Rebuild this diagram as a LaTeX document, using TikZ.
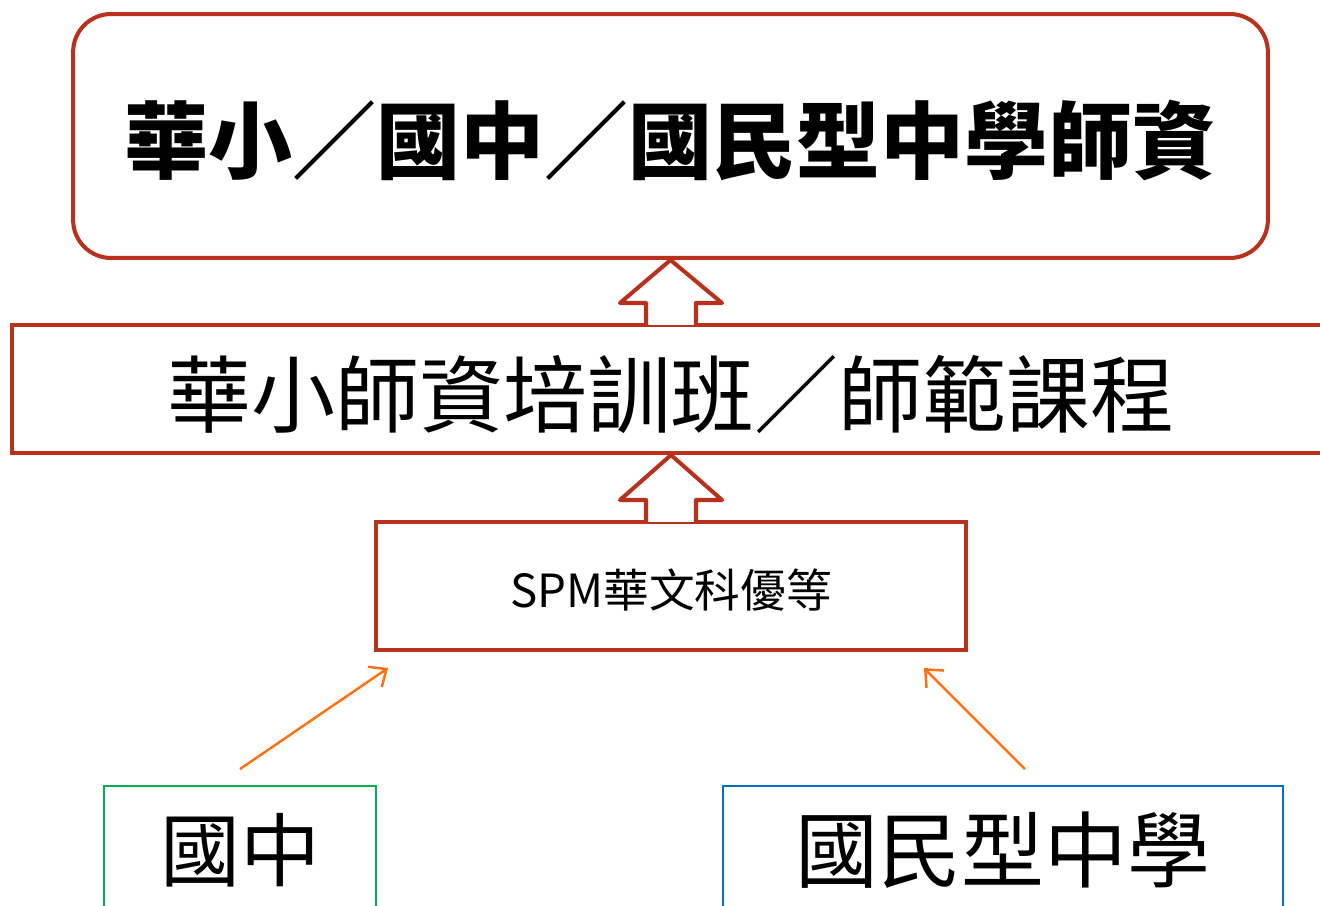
\documentclass[tikz,border=0pt]{standalone}
\usepackage{fontspec}
\setmainfont{Noto Sans CJK TC}
\usepackage{tikz}
\usetikzlibrary{arrows.meta,calc,positioning}
\definecolor{boxred}{HTML}{B8311D}
\definecolor{feedorange}{HTML}{FF7010}
\definecolor{boxgreen}{HTML}{00B050}
\definecolor{boxblue}{HTML}{0070C0}

\begin{document}
\begin{tikzpicture}[x=0.02cm, y=-0.02cm,
    redbox/.style={draw=boxred, line width=2.3pt, inner sep=0pt, text depth=0pt},
    lowbox/.style={line width=1.1pt, inner sep=0pt, text depth=0pt, minimum height=2.8cm},
    feed/.style={draw=feedorange, line width=1.4pt, -{Straight Barb[length=8pt,width=14pt]}}]
            % page
            \useasboundingbox (0,0) rectangle (1320,906);
            \clip (0,0) rectangle (1320,906);

            % boxes
            \node[redbox, rounded corners=0.76cm, minimum width=23.9cm, minimum height=4.88cm, text height=42pt,
                  font=\fontsize{47.8}{50}\selectfont\bfseries] (top) at (670.5,136) {華小／國中／國民型中學師資};
            \node[redbox, minimum width=26.36cm, minimum height=2.56cm, text height=43.1pt,
                  font=\fontsize{47.8}{50}\selectfont] (mid) at (671,389) {華小師資培訓班／師範課程};
            \node[redbox, minimum width=11.8cm, minimum height=2.56cm, text height=24.3pt,
                  font=\fontsize{26}{28}\selectfont] (spm) at (671,586) {SPM華文科優等};
            \node[lowbox, draw=boxgreen, minimum width=5.44cm, text height=27.8pt,
                  font=\fontsize{45.5}{48}\selectfont] (gz) at (240,856) {國中};
            \node[lowbox, draw=boxblue, minimum width=11.2cm, text height=29pt,
                  font=\fontsize{47.2}{50}\selectfont] (mz) at (1003,856) {國民型中學};

            % hollow arrows
            \foreach \a/\b in {top/mid, mid/spm}
                \draw[boxred, line width=2.3pt, fill=white, line join=round]
                    ($(\b.north)+(-25,2)$) -- ++(0,-22) -- ++(-26,0) -- (\a.south)
                    -- ($(\b.north)+(51,-20)$) -- ++(-26,0) -- ++(0,22);

            % orange arrows
            \coordinate (gzfrom) at ($(gz.north)+(0,-16)$);
            \coordinate (mzfrom) at ($(mz.north)+(22,-16)$);
            \coordinate (spmleft) at ($(spm.south west)+(14,16)$);
            \coordinate (spmright) at ($(spm.south east)+(-44,16)$);
            \draw[feed] (gzfrom) -- (spmleft);
            \draw[feed] (mzfrom) -- (spmright);
        \end{tikzpicture}
\end{document}
